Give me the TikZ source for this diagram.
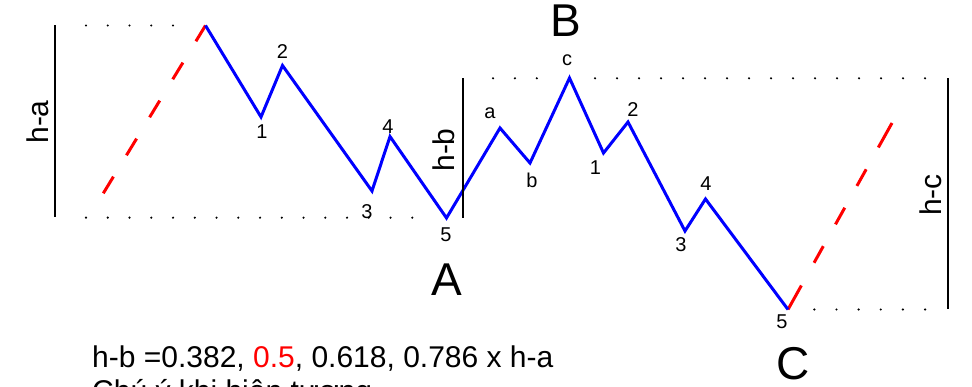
\documentclass[tikz,border=0pt]{standalone}
\usepackage{fontspec}
\setmainfont{Liberation Sans}
\begin{document}
\begin{tikzpicture}[x=1pt,y=-1pt,
  wave/.style={blue,line width=3pt},
  ext/.style={red,line width=3pt},
  hbar/.style={black,line width=1.8pt},
  lbl/.style={inner sep=0pt,font=\fontsize{20}{24}\selectfont},
  hlbl/.style={inner sep=0pt,rotate=90,font=\fontsize{30}{36}\selectfont},
  big/.style={inner sep=0pt,font=\fontsize{46}{55}\selectfont},
  txt/.style={inner sep=0pt,anchor=base west,font=\fontsize{30}{34}\selectfont},
  dotmark/.style={black}]
\useasboundingbox (0,0) rectangle (972,387);
\clip (0,0) rectangle (972,387);

% wave vertices
\coordinate (s0) at (103.3,193.3);
\coordinate (P)  at (205.5,25.5);
\coordinate (L1) at (261,117);
\coordinate (L2) at (282.5,65.5);
\coordinate (L3) at (372,191);
\coordinate (L4) at (390,136.5);
\coordinate (A5) at (446.5,218);
\coordinate (Wa) at (500,128);
\coordinate (Wb) at (530,163);
\coordinate (Wc) at (569.5,78);
\coordinate (R1) at (603.5,153);
\coordinate (R2) at (628,122);
\coordinate (R3) at (685,231);
\coordinate (R4) at (705.5,199);
\coordinate (C5) at (788,309.5);
\coordinate (E)  at (892,123);

% dotted guide lines
\foreach \i in {0,...,4} \fill[dotmark] (86+21.75*\i,25.5) circle (1.2pt);
\foreach \i in {0,...,15} \fill[dotmark] (86+21.75*\i,217.7) circle (1.2pt);
\foreach \i in {0,...,2} \fill[dotmark] (493+21.9*\i,78.3) circle (1.2pt);
\foreach \i in {0,...,15} \fill[dotmark] (595+22*\i,78.3) circle (1.2pt);
\foreach \i in {0,...,5} \fill[dotmark] (814.3+22.15*\i,309.5) circle (1.2pt);

% extensions
\draw[ext,dash pattern=on 19.5pt off 25pt] (s0) -- (P);
\draw[ext,dash pattern=on 27.5pt off 26pt on 19pt off 25pt on 19pt off 25pt on 19pt off 25pt on 40pt] (C5) -- (E);

% waves
\draw[wave] (P) -- (L1) -- (L2) -- (L3) -- (L4) -- (A5) -- (Wa) -- (Wb) -- (Wc) -- (R1) -- (R2) -- (R3) -- (R4) -- (C5);

% height bars
\coordinate (haT) at (55,25.5);   \coordinate (haB) at (55,217.5);
\coordinate (hbT) at (462.7,78.3); \coordinate (hbB) at (462.7,218);
\coordinate (hcT) at (948,78.3);   \coordinate (hcB) at (948,309.5);
\draw[hbar] (haT) -- (haB);
\draw[hbar] (hbT) -- (hbB);
\draw[hbar] (hcT) -- (hcB);

\node[hlbl] (tha) at (37.5,122) {h-a};
\node[hlbl] (thb) at (444,150) {h-b};
\node[hlbl] (thc) at (931,195) {h-c};

% small labels
\node[lbl] (n2a) at (282.5,52) {2};
\node[lbl] (n1a) at (262,132) {1};
\node[lbl] (n4a) at (388,127) {4};
\node[lbl] (n3a) at (367,212) {3};
\node[lbl] (n5a) at (446,235) {5};
\node[lbl] (la)  at (490,113) {a};
\node[lbl] (lb)  at (532,180) {b};
\node[lbl] (lc)  at (567,60) {c};
\node[lbl] (n1b) at (595.5,168) {1};
\node[lbl] (n2b) at (633,110) {2};
\node[lbl] (n3b) at (681,245) {3};
\node[lbl] (n4b) at (706,184) {4};
\node[lbl] (n5b) at (782,322) {5};

% big labels
\node[big] (A) at (447,280) {A};
\node[big] (B) at (566,21) {B};
\node[big] (C) at (793,364) {C};

% formula text
\node[txt] (f1) at (92,367) {h-b =0.382, \textcolor{red}{0.5}, 0.618, 0.786 x h-a};
\node[txt] (f2) at (92,401.5) {Chú ý khi hiện tượng};
\end{tikzpicture}
\end{document}
